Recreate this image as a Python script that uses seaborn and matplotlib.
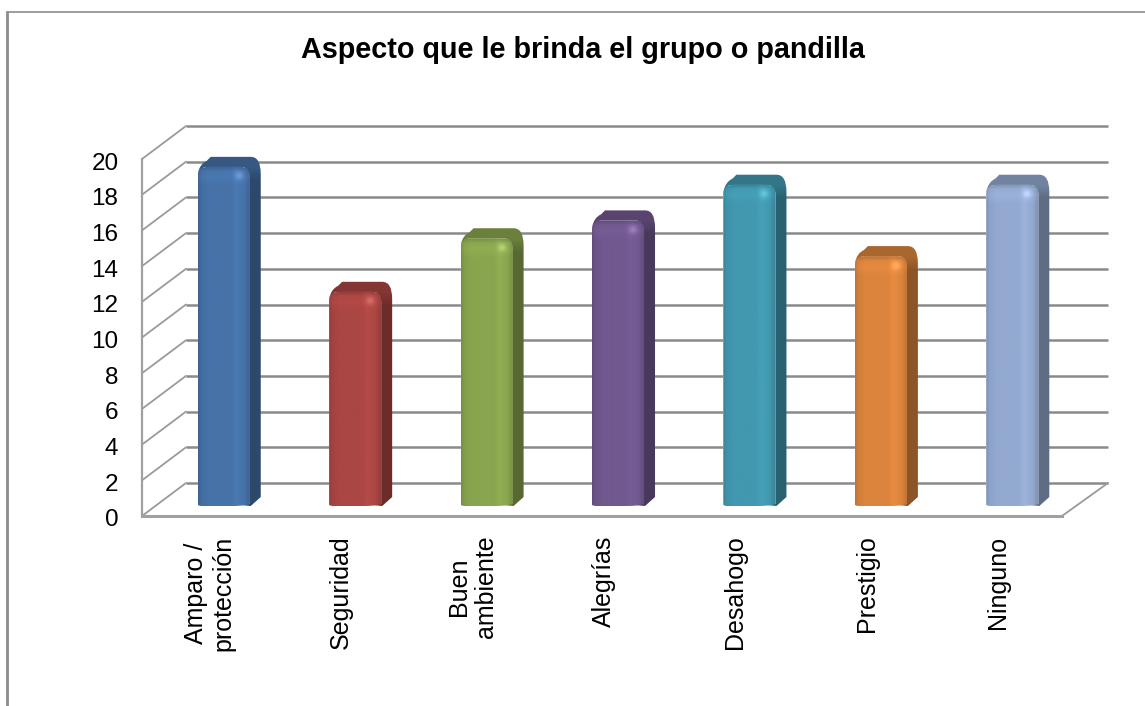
import numpy as np
import matplotlib
matplotlib.use("Agg")
import matplotlib.pyplot as plt
import seaborn as sns
from matplotlib.colors import to_rgb
from matplotlib.lines import Line2D
from matplotlib.patches import PathPatch
from matplotlib.path import Path
from matplotlib.transforms import Affine2D, IdentityTransform

# data
categories = ["Amparo /\nprotección", "Seguridad", "Buen\nambiente", "Alegrías",
              "Desahogo", "Prestigio", "Ninguno"]
values = [19, 12, 15, 16, 18, 14, 18]
y_ticks = list(range(0, 21, 2))
colors = ["#4672A8", "#AA4643", "#89A54E", "#71588F", "#4198AF", "#DB843D", "#93A9CF"]
title = "Aspecto que le brinda el grupo o pandilla"

W, H = 1145, 706
GRID = "#8A8A8A"
DEPTH_X, DEPTH_Y = 44, 33   # back wall offset, px
SIDE_X, SIDE_Y = 11, 10     # bar depth, px

sns.set_theme(style="white")
plt.rcParams["font.family"] = ["Liberation Sans", "DejaVu Sans"]

fig = plt.figure(figsize=(W / 100, H / 100), dpi=100, facecolor="white")


def box(left, top, right, bottom):
    return [left / W, (H - bottom) / H, (right - left) / W, (bottom - top) / H]


# front plane of the chart: ticks, labels and floor edge
ax = fig.add_axes(box(142, 159, 1062, 516))
ax.set_xlim(-0.5, 6.5)
ax.set_ylim(0, 20)
ax.set_yticks(y_ticks)
ax.set_xticks(range(len(categories)))
ax.set_xticklabels(categories, rotation=90, ha="center", va="top", ma="center", linespacing=1.15)
ax.tick_params(axis="y", length=0, pad=17, labelsize=17.5, colors="black")
ax.tick_params(axis="x", length=0, pad=14, labelsize=18, colors="black")
for label in ax.get_xticklabels():
    label.set_transform(label.get_transform() + Affine2D().translate(2, 0))
for label in ax.get_yticklabels():
    label.set_transform(label.get_transform() + Affine2D().translate(0, -2))
for s in ["top", "right"]:
    ax.spines[s].set_visible(False)
ax.spines["left"].set_color("#A0A0A0")
ax.spines["left"].set_linewidth(1.6)
ax.spines["bottom"].set_color("#A0A0A0")
ax.spines["bottom"].set_linewidth(2.2)

# back wall lines and the depth lines going to them
back = ax.transData + Affine2D().translate(DEPTH_X, DEPTH_Y)
ax.hlines(y_ticks, -0.5, 6.515, colors=GRID, linewidth=1.8, transform=back, clip_on=False)
for t in y_ticks:
    px, py = ax.transData.transform((-0.5, t))
    ax.add_line(Line2D([px, px + DEPTH_X], [py, py + DEPTH_Y], color="#9A9A9A", linewidth=1.3,
                       transform=IdentityTransform(), clip_on=False))
px, py = ax.transData.transform((6.5, 0))
ax.add_line(Line2D([px, px + DEPTH_X + 2], [py, py + DEPTH_Y], color="#9A9A9A", linewidth=1.3,
                   transform=IdentityTransform(), clip_on=False))

# bars stand a bit inside the floor, so they get their own transparent axes
ax_bars = fig.add_axes(box(158, 149, 1078, 506))
ax_bars.patch.set_alpha(0)
sns.barplot(x=categories, y=values, hue=categories, palette=colors, width=0.396,
            legend=False, saturation=1, ax=ax_bars)
ax_bars.set_xlim(-0.5, 6.5)
ax_bars.set_ylim(0, 20)
ax_bars.axis("off")


def rounded(points):
    # points are (x, y, "L") or a control point "C" followed by its end point
    verts, codes = [], []
    for i, (x, y, c) in enumerate(points):
        verts.append((x, y))
        codes.append(Path.MOVETO if i == 0 else {"L": Path.LINETO, "C": Path.CURVE3}[c])
    verts.append(verts[0])
    codes.append(Path.CLOSEPOLY)
    return Path(verts, codes)


for bar, col in zip(ax_bars.patches, colors):
    base = np.array(to_rgb(col))
    side = base * 0.64
    top_col = base * 0.78
    bx0, bx1 = bar.get_x(), bar.get_x() + bar.get_width()
    (x0, yb), (x1, yt) = ax_bars.transData.transform([(bx0, 0), (bx1, bar.get_height())])

    # top and right side as one silhouette, darkening from the top downwards
    shell_path = rounded([
        (x0, yb + 5, "L"), (x0, yt - 7, "L"), (x0 + 2, yt + 3, "C"), (x0 + 9, yt + 6, "C"),
        (x0 + 13, yt + SIDE_Y, "L"), (x0 + 20, yt + SIDE_Y, "L"),
        (x1 + SIDE_X - 10, yt + SIDE_Y, "L"), (x1 + SIDE_X, yt + SIDE_Y, "C"), (x1 + SIDE_X, yt - 7, "C"),
        (x1 + SIDE_X, yb + SIDE_Y - 1, "L"), (x1 + 1, yb, "L"),
    ])
    shell = PathPatch(shell_path, facecolor="none", edgecolor="none",
                      transform=IdentityTransform(), zorder=3)
    ax_bars.add_patch(shell)
    rows = np.arange(int(round(yt - yb)) + SIDE_Y) + 0.5
    mix = np.interp(rows, [SIDE_Y + 1, SIDE_Y + 14], [0, 1])[:, None, None]
    shell_img = top_col * (1 - mix) + side * mix
    px_h = (yt - yb) / bar.get_height()
    px_w = (x1 - x0) / bar.get_width()
    sim = ax_bars.imshow(shell_img, extent=(bx0, bx1 + SIDE_X / px_w, 0, bar.get_height() + SIDE_Y / px_h),
                         aspect="auto", origin="upper", interpolation="bilinear", zorder=3)
    sim.set_clip_path(shell)

    # front face, rounded at the top
    front_path = rounded([
        (x0, yb + 1, "L"), (x0, yt - 9, "L"), (x0, yt, "C"), (x0 + 11, yt, "C"),
        (x1 - 9, yt, "L"), (x1, yt, "C"), (x1, yt - 10, "C"),
        (x1, yb + 2, "L"), (x1 - 8, yb, "C"), (x1 - 20, yb, "C"), (x0 + 4, yb, "L"),
    ])
    front = PathPatch(front_path, facecolor="none", edgecolor="none",
                      transform=IdentityTransform(), zorder=5)
    ax_bars.add_patch(front)
    bar.set_zorder(5)
    bar.set_clip_path(front)

    # bevel shading of the front
    nx, ny = int(round(x1 - x0)), int(round(yt - yb))
    u = (np.arange(nx) + 0.5) / nx
    shade_x = np.interp(u, [0, 0.07, 0.2, 0.62, 0.72, 0.88, 1], [0.86, 0.96, 1.0, 1.0, 1.06, 1.0, 0.84])
    d = np.arange(ny) + 0.5
    shade_y = np.interp(d, [0, 5, 11, 20], [0.84, 1.02, 1.05, 1.0])
    img = np.ones((ny, nx, 3)) * base
    img = img * (shade_x[None, :, None] * shade_y[:, None, None])
    xx, yy = np.meshgrid(np.arange(nx), np.arange(ny))
    spot = np.exp(-(((xx - 0.77 * nx) / 4.0) ** 2 + ((yy - 9) / 4.0) ** 2))[..., None]
    img = np.clip(img + spot * 0.13, 0, 1)
    im = ax_bars.imshow(img, extent=(bx0, bx1, 0, bar.get_height()),
                        aspect="auto", origin="upper", interpolation="bilinear", zorder=6)
    im.set_clip_path(front)

ax_bars.set_xlim(-0.5, 6.5)
ax_bars.set_ylim(0, 20)

fig.text(583 / W, 1 - 58 / H, title, ha="center", va="baseline", fontsize=20.7, fontweight="bold", color="black")

# outer frame, only the top and left edges are in the picture
fig.add_artist(Line2D([7 / W, 7 / W], [0, 1 - 12 / H], color="#8C8C8C", linewidth=2.0))
fig.add_artist(Line2D([7 / W, 1], [1 - 12 / H, 1 - 12 / H], color="#8C8C8C", linewidth=1.2))

plt.savefig("out.png", dpi=100)
